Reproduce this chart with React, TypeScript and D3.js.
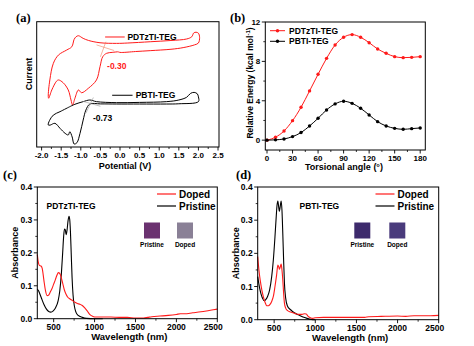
import React from "react";
import * as d3 from "d3";

// ---------- DATA ----------
// (a) cyclic voltammetry (arbitrary current units)
const cvPDTzTI: [number, number][] = [
  [-0.05, 76.0], [0.0, 75.5], [0.4, 76.2], [0.77, 76.9], [1.3, 78.0], [1.61, 79.3], [1.9, 81.5], [2.0, 83.0],
  [2.03, 87.5], [2.0, 90.8], [1.94, 91.6], [1.88, 91.0], [1.83, 88.0], [1.7, 86.2], [1.3, 85.0], [0.77, 84.0],
  [0.2, 83.0], [-0.09, 82.7], [-0.51, 83.2], [-0.8, 85.0], [-0.94, 86.7], [-1.06, 88.8], [-1.12, 88.0],
  [-1.17, 85.9], [-1.23, 80.0], [-1.36, 77.4], [-1.57, 73.4], [-1.7, 66.8], [-1.79, 53.5], [-1.83, 40.5],
  [-1.82, 38.9], [-1.74, 45.5], [-1.62, 52.5], [-1.57, 53.5], [-1.45, 51.3], [-1.32, 45.5], [-1.25, 37.5],
  [-1.21, 33.5], [-1.15, 38.9], [-1.06, 45.5], [-0.98, 43.3], [-0.81, 46.8], [-0.6, 53.5], [-0.51, 64.1],
  [-0.44, 72.1], [-0.34, 74.8], [-0.2, 75.5], [-0.05, 76.0],
];
const cvPBTI: [number, number][] = [
  [-1.28, 32.2], [-1.15, 34.1], [-0.94, 36.2], [-0.77, 37.5], [-0.6, 36.2], [-0.09, 35.4], [0.5, 35.6],
  [1.19, 36.2], [1.5, 37.5], [1.7, 39.7], [1.8, 42.8], [1.89, 43.6], [1.97, 42.5], [2.0, 40.0], [2.0, 36.2],
  [1.5, 34.5], [1.19, 34.3], [0.5, 34.3], [-0.09, 34.3], [-0.5, 34.4], [-0.77, 34.3], [-0.87, 29.5],
  [-0.94, 21.5], [-1.02, 10.9], [-1.1, 3.4], [-1.17, 2.4], [-1.22, 8.0], [-1.28, 12.2], [-1.32, 9.6],
  [-1.4, 10.9], [-1.53, 14.9], [-1.66, 18.9], [-1.78, 17.5], [-1.83, 17.6], [-1.8, 21.0], [-1.7, 25.5],
  [-1.53, 28.2], [-1.28, 32.2],
];
const cvXTicks = [-2.0, -1.5, -1.0, -0.5, 0.0, 0.5, 1.0, 1.5, 2.0, 2.5];
const onsetRed: [number, number][][] = [
  [[-0.6, 81.5], [-0.15, 77.0]],
  [[-0.5, 72.0], [-0.36, 84.0]],
];
const onsetBlack: [number, number][][] = [
  [[-0.95, 36.5], [-0.5, 32.5]],
  [[-0.87, 27.0], [-0.68, 39.5]],
];

// (b) torsional energy scan
const angles = [0, 10, 20, 30, 40, 50, 60, 70, 80, 90, 100, 110, 120, 130, 140, 150, 160, 170, 180];
const energyPDTzTI = [0, 0.3, 0.93, 1.98, 3.34, 5.0, 6.69, 8.31, 9.66, 10.45, 10.72, 10.45, 9.9, 9.26, 8.82, 8.48, 8.38, 8.41, 8.48];
const energyPBTI = [0, 0.03, 0.12, 0.36, 0.77, 1.44, 2.22, 3.07, 3.68, 3.95, 3.74, 3.24, 2.56, 1.88, 1.44, 1.2, 1.1, 1.17, 1.24];
const angleTicks = [0, 30, 60, 90, 120, 150, 180];
const energyTicks = [0, 4, 8, 12];

// (c) PDTzTI-TEG absorption
const cPristine: [number, number][] = [
  [300, 0.09], [315, 0.085], [330, 0.076], [350, 0.063], [380, 0.044], [410, 0.03], [440, 0.022], [465, 0.02],
  [495, 0.024], [525, 0.034], [555, 0.055], [575, 0.085], [595, 0.14], [610, 0.2], [622, 0.25], [632, 0.272],
  [642, 0.27], [652, 0.255], [664, 0.27], [676, 0.298], [688, 0.311], [696, 0.302], [705, 0.265], [715, 0.195],
  [725, 0.125], [737, 0.072], [752, 0.04], [772, 0.02], [800, 0.01], [850, 0.004], [900, 0.001], [1000, 0.0], [1100, 0.0],
];
const cDoped: [number, number][] = [
  [300, 0.195], [310, 0.175], [325, 0.162], [345, 0.16], [360, 0.153], [380, 0.118], [400, 0.085], [420, 0.07],
  [440, 0.072], [460, 0.082], [480, 0.092], [500, 0.105], [520, 0.118], [540, 0.132], [558, 0.14], [575, 0.137],
  [590, 0.128], [610, 0.108], [630, 0.088], [650, 0.075], [670, 0.066], [700, 0.06], [730, 0.055], [760, 0.05],
  [790, 0.046], [820, 0.044], [850, 0.04], [880, 0.033], [910, 0.024], [940, 0.013], [980, 0.007], [1020, 0.005],
  [1100, 0.005], [1200, 0.005], [1300, 0.004], [1400, 0.004], [1500, 0.002], [1600, 0.002], [1650, 0.004],
  [1700, 0.006], [1800, 0.008], [1900, 0.01], [2000, 0.013], [2050, 0.015], [2100, 0.015], [2200, 0.018],
  [2300, 0.021], [2400, 0.025], [2500, 0.029],
];

// (d) PBTI-TEG absorption
const dPristine: [number, number][] = [
  [300, 0.13], [320, 0.1], [340, 0.078], [360, 0.064], [378, 0.057], [395, 0.06], [420, 0.07], [445, 0.09],
  [470, 0.13], [490, 0.18], [510, 0.25], [525, 0.31], [535, 0.345], [545, 0.358], [555, 0.34], [563, 0.326],
  [573, 0.34], [585, 0.358], [595, 0.33], [605, 0.26], [615, 0.18], [625, 0.11], [640, 0.065], [660, 0.042],
  [700, 0.03], [750, 0.02], [800, 0.014], [850, 0.008], [900, 0.004], [950, 0.001], [1000, 0.0],
];
const dDoped: [number, number][] = [
  [300, 0.19], [315, 0.15], [330, 0.12], [350, 0.09], [370, 0.068], [390, 0.052], [410, 0.042], [430, 0.042],
  [450, 0.046], [470, 0.055], [490, 0.07], [510, 0.1], [530, 0.135], [545, 0.165], [555, 0.16], [565, 0.152],
  [575, 0.16], [585, 0.168], [595, 0.15], [605, 0.12], [615, 0.08], [625, 0.05], [640, 0.035], [660, 0.028],
  [700, 0.023], [750, 0.019], [800, 0.016], [840, 0.016], [870, 0.018], [890, 0.017], [910, 0.011], [940, 0.006],
  [970, 0.004], [1000, 0.006], [1100, 0.007], [1300, 0.007], [1500, 0.007], [1600, 0.007], [1650, 0.009],
  [1800, 0.01], [2000, 0.011], [2100, 0.01], [2200, 0.012], [2400, 0.012], [2500, 0.013],
];
const wlTicks = [500, 1000, 1500, 2000, 2500];
const absTicks = [0.0, 0.1, 0.2, 0.3, 0.4];

const RED = "#ff1a1a";
const SANS = "'Liberation Sans', Arial, sans-serif";
const SERIF = "'Liberation Serif', 'Times New Roman', serif";

type Box = { l: number; r: number; t: number; b: number };

function Frame({ box }: { box: Box }) {
  return <rect x={box.l} y={box.t} width={box.r - box.l} height={box.b - box.t} fill="none" stroke="#000" strokeWidth={1} />;
}

function XAxis({ box, x, ticks, minor, fmt, size = 8, lastShift = 0 }: any) {
  return (
    <g>
      {minor.map((v: number, i: number) => (
        <line key={"m" + i} x1={x(v)} x2={x(v)} y1={box.b} y2={box.b + 2} stroke="#000" strokeWidth={0.8} />
      ))}
      {ticks.map((v: number, i: number) => (
        <g key={i}>
          <line x1={x(v)} x2={x(v)} y1={box.b} y2={box.b + 3.5} stroke="#000" strokeWidth={0.9} />
          <text x={x(v) + (i === ticks.length - 1 ? lastShift : 0)} y={box.b + 11} textAnchor="middle" fontSize={size} fontWeight="bold" fontFamily={SANS}>{fmt(v)}</text>
        </g>
      ))}
    </g>
  );
}

function YAxis({ box, y, ticks, minor, fmt, size = 8 }: any) {
  return (
    <g>
      {minor.map((v: number, i: number) => (
        <line key={"m" + i} x1={box.l - 2} x2={box.l} y1={y(v)} y2={y(v)} stroke="#000" strokeWidth={0.8} />
      ))}
      {ticks.map((v: number, i: number) => (
        <g key={i}>
          <line x1={box.l - 3.5} x2={box.l} y1={y(v)} y2={y(v)} stroke="#000" strokeWidth={0.9} />
          <text x={box.l - 5} y={y(v)} dy="0.35em" textAnchor="end" fontSize={size} fontWeight="bold" fontFamily={SANS}>{fmt(v)}</text>
        </g>
      ))}
    </g>
  );
}

function PanelA() {
  const box: Box = { l: 36.7, r: 219, t: 21.7, b: 147 };
  const x = d3.scaleLinear().domain([-2.125, 2.525]).range([box.l, box.r]);
  const y = d3.scaleLinear().domain([0, 100]).range([box.b, box.b - 125.3]);
  const line = d3.line<[number, number]>().x((d) => x(d[0])).y((d) => y(d[1])).curve(d3.curveCatmullRom.alpha(0.5));
  const seg = d3.line<[number, number]>().x((d) => x(d[0])).y((d) => y(d[1]));
  const minor = d3.range(-1.75, 2.5, 0.5);
  return (
    <g>
      <path d={line(cvPDTzTI) || ""} fill="none" stroke={RED} strokeWidth={1} />
      <path d={line(cvPBTI) || ""} fill="none" stroke="#000" strokeWidth={1} />
      {onsetRed.map((s, i) => <path key={i} d={seg(s) || ""} stroke="#f08060" strokeWidth={0.6} fill="none" />)}
      {onsetBlack.map((s, i) => <path key={i} d={seg(s) || ""} stroke="#999" strokeWidth={0.6} fill="none" />)}
      <Frame box={box} />
      <XAxis box={box} x={x} ticks={cvXTicks} minor={minor} fmt={(v: number) => v.toFixed(1)} />
      <text x={29} y={74} transform="rotate(-90 29 74)" dy="0.35em" textAnchor="middle" fontSize={9} fontWeight="bold" fontFamily={SANS}>Current</text>
      <text x={125} y={168.5} textAnchor="middle" fontSize={9} fontWeight="bold" fontFamily={SANS}>Potential (V)</text>
      <line x1={x(-0.38)} x2={x(0.12)} y1={y(87.8)} y2={y(87.8)} stroke={RED} strokeWidth={1} />
      <text x={x(0.19)} y={y(87.8)} dy="0.35em" fontSize={8.5} fontWeight="bold" fontFamily={SANS}>PDTzTI-TEG</text>
      <line x1={x(-0.2)} x2={x(0.32)} y1={y(41.3)} y2={y(41.3)} stroke="#000" strokeWidth={1} />
      <text x={x(0.4)} y={y(41.3)} dy="0.35em" fontSize={8.5} fontWeight="bold" fontFamily={SANS}>PBTI-TEG</text>
      <text x={x(-0.33)} y={y(64.5)} dy="0.35em" fontSize={8.5} fontWeight="bold" fontFamily={SANS} fill={RED}>-0.30</text>
      <text x={x(-0.69)} y={y(23.5)} dy="0.35em" fontSize={8.5} fontWeight="bold" fontFamily={SANS}>-0.73</text>
      <text x={16} y={22} fontSize={12.5} fontWeight="bold" fontFamily={SERIF}>(a)</text>
    </g>
  );
}

function PanelB() {
  const box: Box = { l: 265.3, r: 425.3, t: 22, b: 150 };
  const x = d3.scaleLinear().domain([-2, 186]).range([box.l, box.r]);
  const y = d3.scaleLinear().domain([-1, 12]).range([box.b, box.t]);
  const line = d3.line<number>().x((_, i) => x(angles[i])).y((d) => y(d)).curve(d3.curveMonotoneX);
  const minorX = d3.range(15, 181, 30);
  const minorY = [2, 6, 10];
  return (
    <g>
      <path d={line(energyPDTzTI) || ""} fill="none" stroke={RED} strokeWidth={1} />
      <path d={line(energyPBTI) || ""} fill="none" stroke="#000" strokeWidth={1} />
      {energyPDTzTI.map((v, i) => <circle key={"r" + i} cx={x(angles[i])} cy={y(v)} r={1.7} fill={RED} />)}
      {energyPBTI.map((v, i) => <circle key={"k" + i} cx={x(angles[i])} cy={y(v)} r={1.7} fill="#000" />)}
      <Frame box={box} />
      <XAxis box={box} x={x} ticks={angleTicks} minor={minorX} fmt={(v: number) => String(v)} />
      <YAxis box={box} y={y} ticks={energyTicks} minor={minorY} fmt={(v: number) => String(v)} />
      <text transform="translate(250 83) rotate(-90)" dy="0.35em" textAnchor="middle" fontSize={8.5} fontWeight="bold" fontFamily={SANS}>
        Relative Energy (kcal mol<tspan dy="-3" fontSize={6}>-1</tspan><tspan dy="3">)</tspan>
      </text>
      <text x={344} y={170} textAnchor="middle" fontSize={9} fontWeight="bold" fontFamily={SANS}>Torsional angle (°)</text>
      <line x1={270} x2={285} y1={30.7} y2={30.7} stroke={RED} strokeWidth={1} />
      <circle cx={277.5} cy={30.7} r={1.7} fill={RED} />
      <text x={289} y={30.7} dy="0.35em" fontSize={8.5} fontWeight="bold" fontFamily={SANS}>PDTzTI-TEG</text>
      <line x1={270} x2={285} y1={41.3} y2={41.3} stroke="#000" strokeWidth={1} />
      <circle cx={277.5} cy={41.3} r={1.7} fill="#000" />
      <text x={289} y={41.3} dy="0.35em" fontSize={8.5} fontWeight="bold" fontFamily={SANS}>PBTI-TEG</text>
      <text x={230} y={22} fontSize={12.5} fontWeight="bold" fontFamily={SERIF}>(b)</text>
    </g>
  );
}

function SpecPanel({ box, label, letter, letterX, yLabelX, pristine, doped, swatch, legendX, nameX }: any) {
  const x = d3.scaleLinear().domain([300, 2500]).range([box.l, box.r]);
  const y = d3.scaleLinear().domain([0, 0.4]).range([box.b, box.t]);
  const line = d3.line<[number, number]>().x((d) => x(d[0])).y((d) => y(d[1])).curve(d3.curveMonotoneX);
  const minorX = d3.range(750, 2500, 500);
  const minorY = [0.05, 0.15, 0.25, 0.35];
  const cx = (box.l + box.r) / 2;
  return (
    <g>
      <path d={line(pristine) || ""} fill="none" stroke="#000" strokeWidth={1.1} />
      <path d={line(doped) || ""} fill="none" stroke={RED} strokeWidth={1.1} />
      <Frame box={box} />
      <XAxis box={box} x={x} ticks={wlTicks} minor={minorX} fmt={(v: number) => String(v)} size={8.5} lastShift={-4} />
      <YAxis box={box} y={y} ticks={absTicks} minor={minorY} fmt={(v: number) => v.toFixed(1)} size={8.5} />
      <text transform={`translate(${yLabelX} ${(box.t + box.b) / 2}) rotate(-90)`} dy="0.35em" textAnchor="middle" fontSize={9} fontWeight="bold" fontFamily={SANS}>Absorbance</text>
      <text x={cx + 2} y={box.b + 21.5} textAnchor="middle" fontSize={9.5} fontWeight="bold" fontFamily={SANS}>Wavelength (nm)</text>
      <line x1={legendX} x2={legendX + 19} y1={box.t + 7} y2={box.t + 7} stroke={RED} strokeWidth={1.2} />
      <text x={legendX + 22} y={box.t + 7} dy="0.35em" fontSize={10} fontWeight="bold" fontFamily={SANS}>Doped</text>
      <line x1={legendX} x2={legendX + 19} y1={box.t + 19} y2={box.t + 19} stroke="#000" strokeWidth={1.2} />
      <text x={legendX + 22} y={box.t + 19} dy="0.35em" fontSize={10} fontWeight="bold" fontFamily={SANS}>Pristine</text>
      <text x={nameX} y={box.t + 19} dy="0.35em" fontSize={8.5} fontWeight="bold" fontFamily={SANS}>{label}</text>
      {swatch.map((s: any, i: number) => (
        <g key={i}>
          <rect x={s.x} y={box.t + 35.5} width={16} height={16} fill={s.color} />
          <text x={s.x + 8} y={box.t + 59.5} textAnchor="middle" fontSize={6.5} fontWeight="bold" fontFamily={SANS}>{s.name}</text>
        </g>
      ))}
      <text x={letterX} y={box.t - 8} fontSize={12.5} fontWeight="bold" fontFamily={SERIF}>{letter}</text>
    </g>
  );
}

export default function App() {
  const boxC: Box = { l: 37.3, r: 217.3, t: 187, b: 318.7 };
  const boxD: Box = { l: 257.7, r: 438.7, t: 187, b: 319.7 };
  return (
    <svg width={474} height={346} style={{ position: "absolute", left: 0, top: 0, background: "#fff" }}>
      <rect width={474} height={346} fill="#fff" />
      <PanelA />
      <PanelB />
      <SpecPanel box={boxC} label="PDTzTI-TEG" letter="(c)" letterX={3} yLabelX={15} pristine={cPristine} doped={cDoped}
        legendX={157} nameX={46.5}
        swatch={[{ x: 144, color: "#6b3270", name: "Pristine" }, { x: 177, color: "#8a8096", name: "Doped" }]} />
      <SpecPanel box={boxD} label="PBTI-TEG" letter="(d)" letterX={236} yLabelX={236} pristine={dPristine} doped={dDoped}
        legendX={375.5} nameX={299.5}
        swatch={[{ x: 354.3, color: "#3d2a6c", name: "Pristine" }, { x: 389.3, color: "#4a3b7c", name: "Doped" }]} />
    </svg>
  );
}
